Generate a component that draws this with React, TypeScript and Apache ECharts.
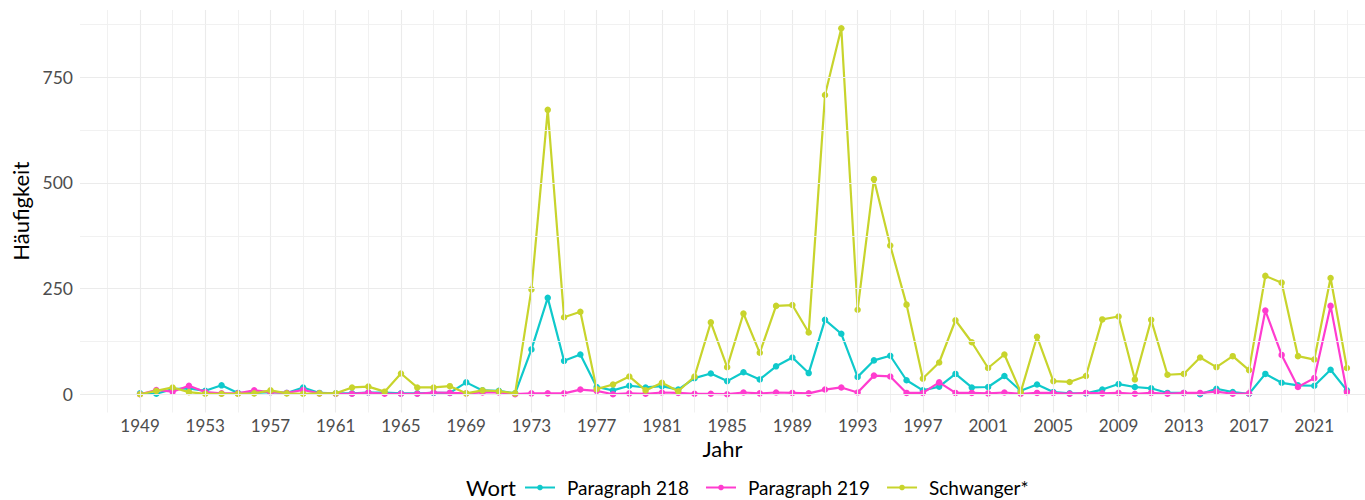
import React, { useEffect, useRef } from "react";
import * as echarts from "echarts";

const years = [
  1949, 1950, 1951, 1952, 1953, 1954, 1955, 1956, 1957, 1958, 1959, 1960,
  1961, 1962, 1963, 1964, 1965, 1966, 1967, 1968, 1969, 1970, 1971, 1972,
  1973, 1974, 1975, 1976, 1977, 1978, 1979, 1980, 1981, 1982, 1983, 1984,
  1985, 1986, 1987, 1988, 1989, 1990, 1991, 1992, 1993, 1994, 1995, 1996,
  1997, 1998, 1999, 2000, 2001, 2002, 2003, 2004, 2005, 2006, 2007, 2008,
  2009, 2010, 2011, 2012, 2013, 2014, 2015, 2016, 2017, 2018, 2019, 2020,
  2021, 2022, 2023,
];

const paragraph218 = [
  2, 1, 12, 14, 8, 21, 3, 3, 5, 3, 16, 3, 2, 2, 4, 4, 2, 2, 3, 3, 28, 9, 8, 2,
  106, 228, 79, 94, 17, 9, 20, 16, 19, 11, 38, 49, 31, 52, 35, 66, 87, 50,
  176, 143, 41, 80, 91, 33, 9, 18, 48, 16, 17, 43, 8, 23, 5, 2, 2,
  11, 24, 17, 14, 3, 3, 0, 13, 5, 1, 48, 27, 21, 20, 58, 9,
];

const paragraph219 = [
  0, 10, 6, 20, 5, 2, 2, 9, 5, 3, 10, 2, 1, 1, 4, 1, 1, 1, 4, 3, 2, 4, 4, 0,
  2, 2, 2, 11, 8, 0, 2, 1, 4, 3, 1, 1, 0, 4, 2, 4, 3, 2,
  11, 16, 4, 44, 42, 3, 3, 28, 3, 3, 2, 4, 1, 3, 3, 1, 3,
  2, 3, 1, 3, 1, 3, 3, 6, 1, 2, 198, 93, 17, 38, 209, 5,
];

const schwanger = [
  0, 8, 16, 5, 1, 1, 1, 2, 9, 2, 1, 2, 2, 16, 18, 6, 49, 16, 16, 19, 2, 9, 7, 2,
  248, 673, 182, 195, 12, 23, 42, 9, 27, 7, 42, 170, 64, 191, 98, 209, 211, 146,
  708, 866, 200, 509, 352, 212, 37, 75, 175, 123, 62, 94, 5, 136, 31, 29, 43,
  177, 184, 35, 176, 46, 48, 87, 64, 90, 57, 280, 264, 90, 82, 275, 62,
];

const xMajorTicks = [
  1949, 1953, 1957, 1961, 1965, 1969, 1973, 1977, 1981, 1985, 1989, 1993,
  1997, 2001, 2005, 2009, 2013, 2017, 2021,
];
const xMinorTicks = [
  1947, 1951, 1955, 1959, 1963, 1967, 1971, 1975, 1979, 1983, 1987, 1991,
  1995, 1999, 2003, 2007, 2011, 2015, 2019, 2023,
];
const yMajorTicks = [0, 250, 500, 750];
const yMinorTicks = [125, 375, 625, 875];

const seriesNames = ["Paragraph 218", "Paragraph 219", "Schwanger*"];
const seriesColors = ["#0FC9CB", "#FF3CCF", "#C8D42C"];

const FONT = "Lato, 'Noto Sans', sans-serif";

export default function App() {
  const ref = useRef<HTMLDivElement>(null);

  useEffect(() => {
    document.body.style.margin = "0";
    if (!ref.current) return;
    const chart = echarts.init(ref.current, undefined, { renderer: "svg" });

    const pair = (vals: number[]) => vals.map((v, i) => [years[i], v]);
    const allData = [paragraph218, paragraph219, schwanger];

    const gridMarks = {
      silent: true,
      symbol: ["none", "none"],
      label: { show: false },
      emphasis: { disabled: true },
      data: [
        ...xMajorTicks.map((x) => ({ xAxis: x, lineStyle: { color: "#EBEBEB", width: 1.1, type: "solid" } })),
        ...xMinorTicks.map((x) => ({ xAxis: x, lineStyle: { color: "#EFEFEF", width: 0.9, type: "solid" } })),
        ...yMajorTicks.map((y) => ({ yAxis: y, lineStyle: { color: "#EBEBEB", width: 1.1, type: "solid" } })),
        ...yMinorTicks.map((y) => ({ yAxis: y, lineStyle: { color: "#EFEFEF", width: 0.9, type: "solid" } })),
      ],
    };

    chart.setOption({
      animation: false,
      backgroundColor: "#ffffff",
      textStyle: { fontFamily: FONT },
      grid: {
        left: 80,
        right: 0,
        top: 10,
        bottom: 87.5,
        containLabel: false,
        outerBoundsMode: "none",
      },
      xAxis: {
        type: "value",
        min: 1945.32,
        max: 2024.11,
        name: "Jahr",
        nameLocation: "middle",
        nameGap: 25,
        nameMoveOverlap: false,
        nameTextStyle: { fontSize: 22, color: "#000", fontFamily: FONT },
        axisLine: { show: false },
        axisTick: { show: false },
        splitLine: { show: false },
        axisLabel: {
          customValues: xMajorTicks,
          fontSize: 17,
          color: "#4D4D4D",
          margin: 4,
          fontFamily: FONT,
          formatter: (v: number) => String(v),
        },
      },
      yAxis: {
        type: "value",
        min: -43.3,
        max: 909.3,
        name: "Häufigkeit",
        nameLocation: "middle",
        nameGap: 47,
        nameRotate: 90,
        nameTextStyle: { fontSize: 22, color: "#000", fontFamily: FONT },
        axisLine: { show: false },
        axisTick: { show: false },
        splitLine: { show: false },
        axisLabel: {
          customValues: yMajorTicks,
          fontSize: 17.5,
          color: "#4D4D4D",
          margin: 7,
          fontFamily: FONT,
          formatter: (v: number) => String(v),
        },
      },
      legend: {
        left: 524,
        top: 478,
        itemWidth: 30,
        itemHeight: 7,
        itemGap: 16,
        padding: 0,
        data: seriesNames,
        textStyle: { fontSize: 19, color: "#000", fontFamily: FONT, padding: [0, 0, 0, 7] },
      },
      graphic: [
        {
          type: "text",
          x: 466,
          y: 487,
          style: {
            text: "Wort",
            fontSize: 22,
            lineHeight: 22,
            fill: "#000",
            fontFamily: FONT,
            verticalAlign: "middle",
            align: "left",
          },
        },
      ],
      series: [
        {
          type: "line",
          name: "__grid",
          data: [],
          silent: true,
          z: 0,
          markLine: gridMarks,
        },
        ...seriesNames.map((name, i) => ({
          type: "line",
          name,
          data: pair(allData[i]),
          color: seriesColors[i],
          symbol: "circle",
          symbolSize: 6.5,
          showSymbol: true,
          lineStyle: { width: 2.2, color: seriesColors[i] },
          itemStyle: { color: seriesColors[i] },
          z: 2 + i,
        })),
      ],
    });

    return () => chart.dispose();
  }, []);

  return <div ref={ref} style={{ width: 1365, height: 500 }} />;
}
